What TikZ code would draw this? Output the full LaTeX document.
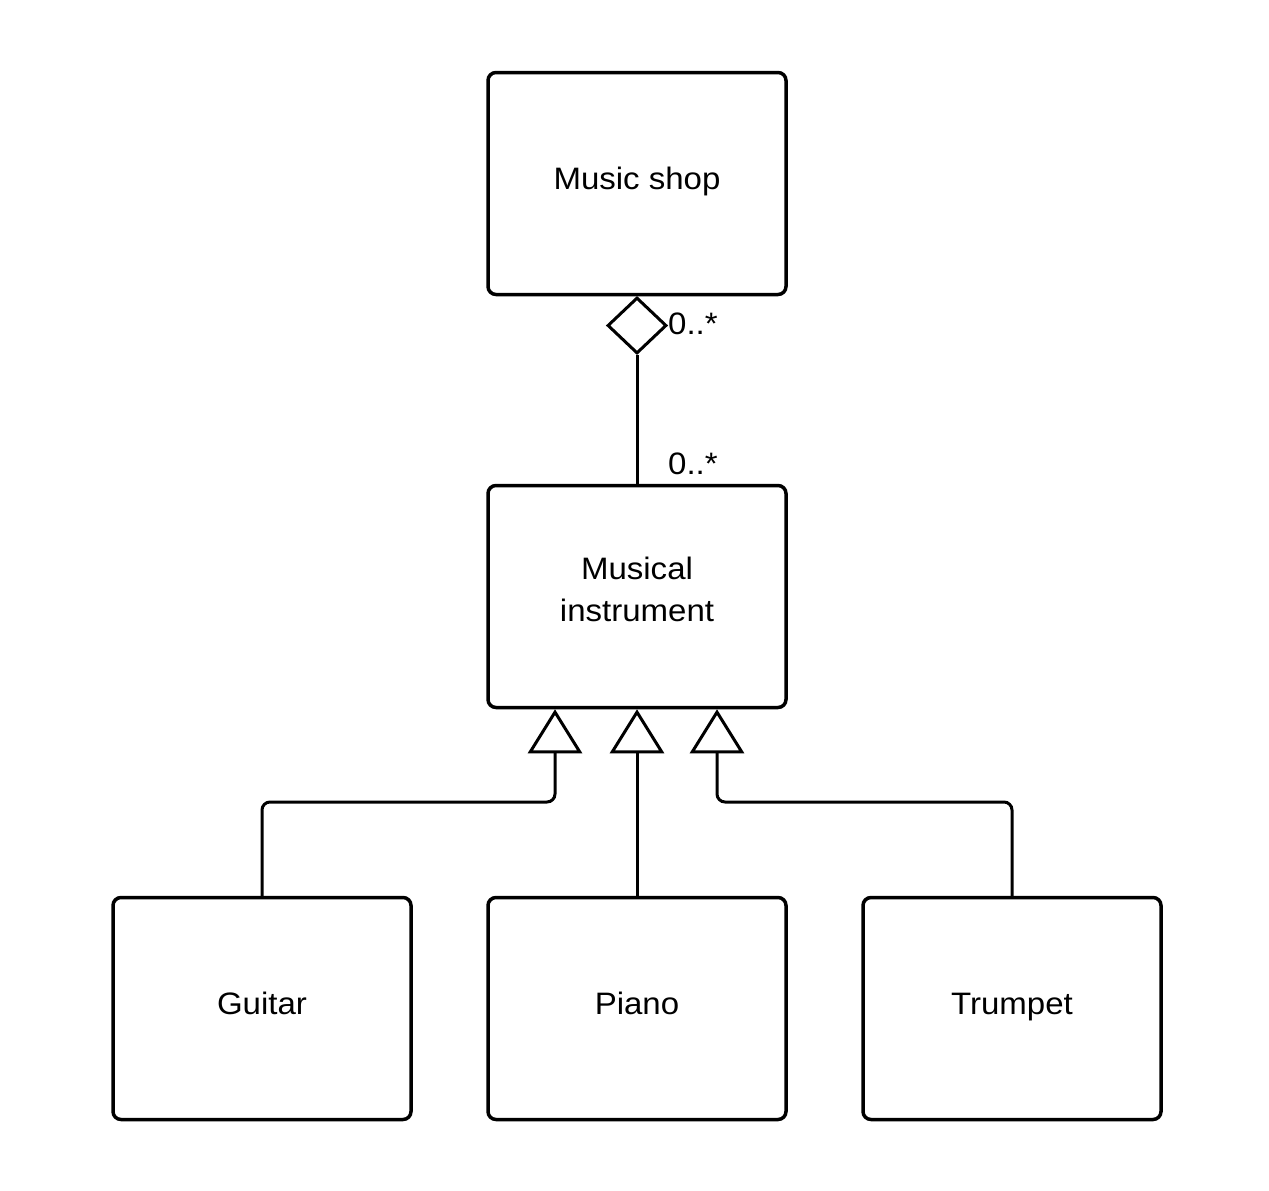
\documentclass[tikz,border=0pt]{standalone}
\usepackage{fontspec}
\setmainfont{Liberation Sans}[FakeStretch=1.065]
\usetikzlibrary{arrows.meta,shapes.geometric}
\begin{document}
\begin{tikzpicture}[x=1pt,y=-1pt,
  cls/.style={draw,line width=3.5pt,rounded corners=8pt,minimum width=298pt,minimum height=222pt,align=center,inner sep=0pt,font=\fontsize{31}{42}\selectfont},
  one/.style={text height=22pt,text depth=11pt},
  conn/.style={line width=3pt,rounded corners=8pt},
  gen/.style={conn,-{Triangle[open,length=44pt,width=54pt,line width=3pt]}},
  agg/.style={draw,diamond,line width=3pt,fill=white,minimum width=59pt,minimum height=56pt,inner sep=0pt},
  lbl/.style={font=\fontsize{31}{36}\selectfont,inner sep=0pt}]
\useasboundingbox (0,0) rectangle (1269,1191);
\node[cls,one] (shop) at (637,183.5) {Music shop};
\node[cls,text depth=15pt] (inst) at (637,596.5) {Musical\\instrument};
\node[cls,one] (guitar) at (262,1008.5) {Guitar};
\node[cls,one] (piano) at (637,1008.5) {Piano};
\node[cls,one] (trumpet) at (1012,1008.5) {Trumpet};
\node[agg] (dia) at (637,325.5) {};
\draw[conn] (dia.south) -- (inst.north);
\node[lbl,anchor=base west] (m1) at (668,334) {0..*};
\node[lbl,anchor=base west] (m2) at (668,474) {0..*};
\coordinate (jg) at (555,802);
\coordinate (jt) at (717,802);
\draw[gen] (guitar.north) |- (jg) -- (jg |- inst.south);
\draw[gen] (piano.north) -- (inst.south);
\draw[gen] (trumpet.north) |- (jt) -- (jt |- inst.south);
\end{tikzpicture}
\end{document}
